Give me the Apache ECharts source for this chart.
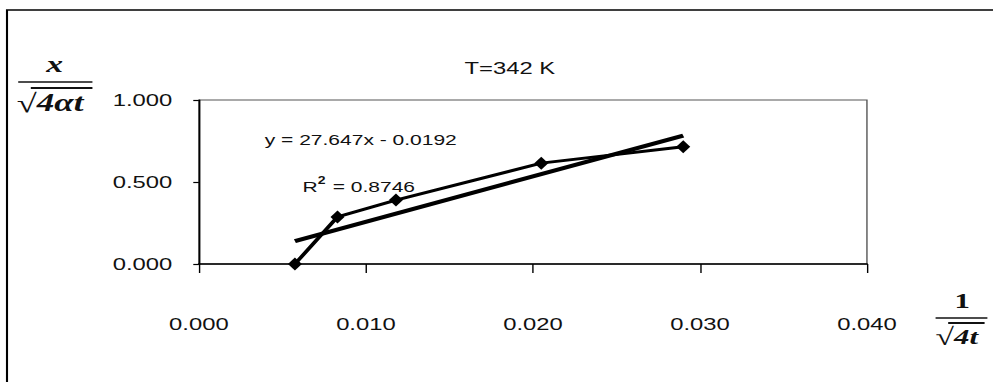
<!DOCTYPE html>
<html><head><meta charset="utf-8">
<script src="https://cdn.jsdelivr.net/npm/echarts@6/dist/echarts.min.js"></script>
<style>
html,body{margin:0;padding:0;background:#fff;overflow:hidden}
#c{width:709px;height:382px;transform:scaleX(1.40056);transform-origin:0 0}
</style>
</head><body><div id="c"></div>
<script>
// Data
const xValues = [0.00575, 0.0083, 0.0118, 0.0205, 0.0290];
const yValues = [0.000, 0.287, 0.390, 0.615, 0.715];
const trendSlope = 27.647;
const trendIntercept = -0.0192;
const xTicks = [0.000, 0.010, 0.020, 0.030, 0.040];
const yTicks = [0.000, 0.500, 1.000];
const titleText = 'T=342 K';
const eqText = 'y = 27.647x - 0.0192';
const r2Text = '0.8746';

const dataPts = xValues.map((x, i) => [x, yValues[i]]);
const tx0 = xValues[0], tx1 = xValues[xValues.length - 1];
const trendPts = [[tx0, trendSlope * tx0 + trendIntercept], [tx1, trendSlope * tx1 + trendIntercept]];

const chart = echarts.init(document.getElementById('c'), null, {renderer: 'svg', width: 709, height: 382});
const F = 'Liberation Sans, Arial, sans-serif';
const S = 'Liberation Serif, Times New Roman, serif';
chart.setOption({
  animation: false,
  backgroundColor: '#fff',
  grid: {left: 142, top: 100, right: 90, bottom: 118, show: true, borderColor: '#555', borderWidth: 1, backgroundColor: 'transparent'},
  xAxis: {
    type: 'value', min: xTicks[0], max: xTicks[xTicks.length - 1], interval: 0.01,
    axisLine: {show: true, onZero: false, lineStyle: {color: '#000', width: 1.5}},
    axisTick: {show: true, inside: false, length: 9, lineStyle: {color: '#000', width: 1}},
    splitLine: {show: false},
    axisLabel: {margin: 51, color: '#111', fontFamily: F, fontSize: 17, formatter: v => v.toFixed(3)}
  },
  yAxis: {
    type: 'value', min: yTicks[0], max: yTicks[yTicks.length - 1], interval: 0.5,
    axisLine: {show: true, onZero: false, lineStyle: {color: '#000', width: 1.2}},
    axisTick: {show: true, length: 4, lineStyle: {color: '#000', width: 1.2}},
    splitLine: {show: false},
    axisLabel: {margin: 19, color: '#111', fontFamily: F, fontSize: 17, formatter: v => v.toFixed(3)}
  },
  series: [
    {type: 'line', data: dataPts, symbol: 'diamond', symbolSize: [10, 13], showSymbol: true,
     lineStyle: {color: '#000', width: 3}, itemStyle: {color: '#000'}, z: 3},
    {type: 'line', data: trendPts, symbol: 'none', lineStyle: {color: '#000', width: 4}, z: 2}
  ],
  graphic: [
    {type: 'rect', shape: {x: 5, y: 10, width: 800, height: 500}, style: {fill: 'none', stroke: '#000', lineWidth: 1.5}, silent: true},
    {type: 'text', x: 364, y: 68, style: {text: titleText, font: '17px ' + F, fill: '#111', align: 'center', verticalAlign: 'middle'}},
    {type: 'text', x: 189, y: 140, style: {text: eqText, font: '15px ' + F, fill: '#111', verticalAlign: 'middle'}},
    {type: 'text', x: 216, y: 185, style: {
      text: '{r|R}{s|2}{r| = ' + r2Text + '}', verticalAlign: 'middle', fill: '#111',
      rich: {r: {font: '15px ' + F, fill: '#111', verticalAlign: 'bottom'}, s: {font: 'bold 10px ' + F, fill: '#111', verticalAlign: 'top', padding: [0, 1, 8, 0]}}
    }},
    // y-axis fraction label: x / sqrt(4 alpha t)
    {type: 'text', x: 39, y: 64, style: {text: 'x', font: 'italic bold 24px ' + S, fill: '#111', align: 'center', verticalAlign: 'middle'}},
    {type: 'line', shape: {x1: 13, y1: 82, x2: 66, y2: 82}, style: {stroke: '#111', lineWidth: 1.5}},
    {type: 'text', x: 12, y: 103, style: {
      text: '{a|√}{b|4αt}', verticalAlign: 'middle',
      rich: {a: {font: 'bold 26px ' + S, fill: '#111'}, b: {font: 'italic bold 25px ' + S, fill: '#111'}}
    }},
    {type: 'line', shape: {x1: 22, y1: 88, x2: 66, y2: 88}, style: {stroke: '#111', lineWidth: 1.8}},
    // x-axis fraction label: 1 / sqrt(4t)
    {type: 'text', x: 687, y: 301, style: {text: '1', font: 'bold 22px ' + S, fill: '#111', align: 'center', verticalAlign: 'middle'}},
    {type: 'line', shape: {x1: 668, y1: 318, x2: 705, y2: 318}, style: {stroke: '#111', lineWidth: 1.5}},
    {type: 'text', x: 668, y: 337, style: {
      text: '{a|√}{b|4t}', verticalAlign: 'middle',
      rich: {a: {font: 'bold 24px ' + S, fill: '#111'}, b: {font: 'italic bold 22px ' + S, fill: '#111'}}
    }},
    {type: 'line', shape: {x1: 677, y1: 323, x2: 703, y2: 323}, style: {stroke: '#111', lineWidth: 1.8}}
  ]
});
</script></body></html>
